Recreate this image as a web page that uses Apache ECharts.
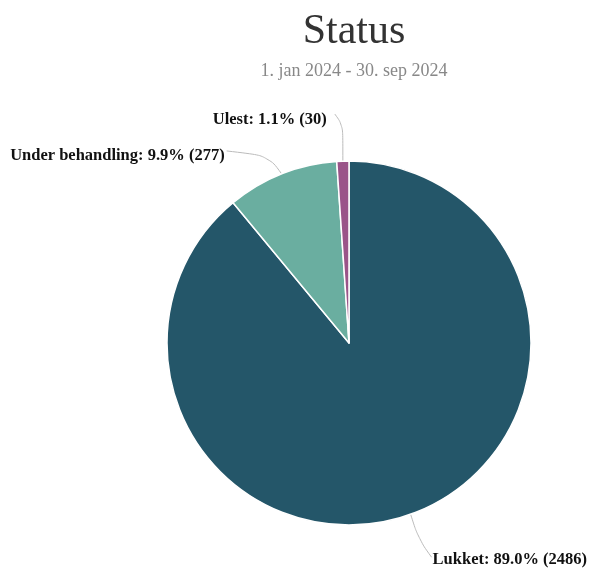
<!DOCTYPE html>
<html>
<head>
<meta charset="utf-8">
<script src="https://cdn.jsdelivr.net/npm/echarts@6/dist/echarts.min.js"></script>
<style>
  html, body { margin: 0; padding: 0; background: #fff; }
  #chart { width: 605px; height: 568px; }
</style>
</head>
<body>
<div id="chart"></div>
<script>
const categories = ['Lukket', 'Under behandling', 'Ulest']
const values = [2486, 277, 30]
const colors = ['#245669', '#6aaea0', '#9a5489']

// label anchor + connector bend, relative to the slice edge point
const labelSpots = [
  { dx: 22, dy: 45, align: 'left', bend: [[8, 25], [21, 43]] },
  { dx: -57, dy: -18, align: 'right', bend: [[-13, -18], [-55, -23]] },
  { dx: -16, dy: -41, align: 'right', bend: [[0, -36], [-8, -47]] }
]

const chart = echarts.init(document.getElementById('chart'))

chart.setOption({
  title: {
    text: 'Status',
    subtext: '1. jan 2024 - 30. sep 2024',
    left: 349,
    textAlign: 'center',
    top: 6,
    itemGap: 9,
    textStyle: {
      fontFamily: 'Liberation Serif',
      fontSize: 42,
      fontWeight: 'normal',
      color: '#333'
    },
    subtextStyle: {
      fontFamily: 'Liberation Serif',
      fontSize: 18,
      color: '#888'
    }
  },
  series: [{
    type: 'pie',
    center: [349, 343],
    radius: 182,
    startAngle: 90,
    clockwise: true,
    color: colors,
    itemStyle: {
      borderColor: '#fff',
      borderWidth: 1.5
    },
    label: {
      fontFamily: 'Liberation Serif',
      fontWeight: 'bold',
      fontSize: 16.5,
      color: '#111',
      overflow: 'none',
      formatter: function(p) {
        return p.name + ': ' + p.percent.toFixed(1) + '% (' + p.value + ')'
      }
    },
    labelLine: {
      length: 30,
      length2: 40,
      smooth: 0.4,
      lineStyle: { color: '#bbb', width: 1 }
    },
    labelLayout: function(params) {
      const s = labelSpots[params.dataIndex]
      const p0 = params.labelLinePoints[0]
      return {
        x: p0[0] + s.dx,
        y: p0[1] + s.dy,
        align: s.align,
        verticalAlign: 'middle',
        labelLinePoints: [
          p0,
          [p0[0] + s.bend[0][0], p0[1] + s.bend[0][1]],
          [p0[0] + s.bend[1][0], p0[1] + s.bend[1][1]]
        ]
      }
    },
    data: categories.map((name, i) => ({ name: name, value: values[i] }))
  }]
})
</script>
</body>
</html>
